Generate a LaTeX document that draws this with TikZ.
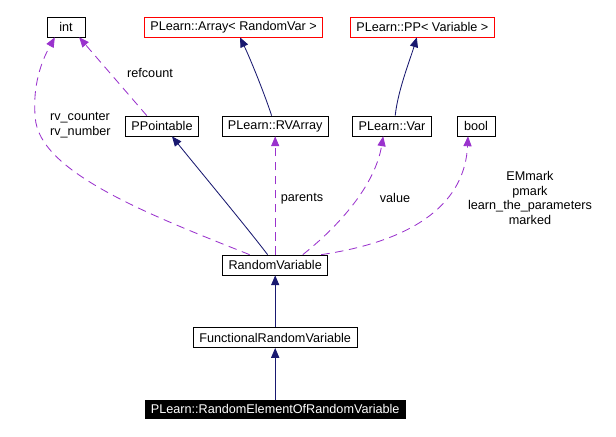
\documentclass[tikz,border=0pt]{standalone}
\usepackage{fontspec}
\setmainfont{Liberation Sans}
\usetikzlibrary{arrows.meta}
\definecolor{edgeblue}{HTML}{191970}
\definecolor{edgepurple}{HTML}{9A32CD}

\begin{document}
\begin{tikzpicture}[>={Triangle[length=7pt,width=5.8pt]}, font=\fontsize{9}{10.4}\selectfont,
  box/.style={draw, line width=0.5pt, minimum height=0.5cm, minimum width=0.95cm, inner xsep=4.2pt, inner ysep=0pt},
  redbox/.style={box, draw=red},
  blackbox/.style={box, fill=black, text=white, minimum height=0.45cm},
  inherit/.style={->, draw=edgeblue, line width=0.6pt},
  usage/.style={->, draw=edgepurple, line width=0.6pt, dash pattern=on 6pt off 4pt}]
  \useasboundingbox (0,0) rectangle (15.4,10.9);
  \node[box] (int) at (1.65,10.225) {int};
  \node[redbox] (arr) at (5.84,10.225) {PLearn::Array< RandomVar >};
  \node[redbox] (pp) at (10.56,10.225) {PLearn::PP< Variable >};
  \node[box] (ppt) at (4.05,7.75) {PPointable};
  \node[box] (rva) at (6.88,7.75) {PLearn::RVArray};
  \node[box] (var) at (9.8,7.75) {PLearn::Var};
  \node[box] (bool) at (11.9,7.75) {bool};
  \node[box] (rv) at (6.88,4.275) {RandomVariable};
  \node[box] (frv) at (6.88,2.46) {FunctionalRandomVariable};
  \node[blackbox] (reorv) at (6.88,0.675) {PLearn::RandomElementOfRandomVariable};
  \draw[usage] ([xshift=-0.38cm]ppt.north) -- ([xshift=0.33cm]int.south);
  \draw[usage] ([xshift=-0.64cm]rv.north) .. controls (3.75,5.525) and (0.95,6.6) .. (0.88,7.975)
    .. controls (0.8,8.9) and (1.125,9.525) .. ([xshift=-0.28cm]int.south);
  \draw[inherit] ([xshift=-0.19cm]rv.north) .. controls (6.125,5.275) and (4.875,6.775) .. ([xshift=0.25cm]ppt.south);
  \draw[usage] (rv.north) -- (rva.south);
  \draw[inherit] ([xshift=-0.09cm]rva.north) .. controls (6.625,8.525) and (6.25,9.45) .. ([xshift=0.16cm]arr.south);
  \draw[inherit] ([xshift=0.08cm]var.north) .. controls (9.95,8.65) and (10.25,9.4) .. ([xshift=-0.14cm]pp.south);
  \draw[usage] ([xshift=0.69cm]rv.north) .. controls (8.5,5.275) and (9.375,6.275) .. ([xshift=-0.22cm]var.south);
  \draw[usage] ([xshift=1.15cm]rv.north) .. controls (10.5,4.9) and (11.625,5.9) .. ([xshift=-0.2cm]bool.south);
  \draw[inherit] (frv.north) -- (rv.south);
  \draw[inherit] (reorv.north) -- (frv.south);
  \node (lref) at (3.75,9.075) {refcount};
  \node[align=left] (lrv) at (2.01,7.775) {rv\_counter\\rv\_number};
  \node (lpar) at (7.55,5.925) {parents};
  \node (lval) at (9.875,5.95) {value};
  \node[align=center] (lbool) at (13.25,5.95) {EMmark\\pmark\\learn\_the\_parameters\\marked};
\end{tikzpicture}
\end{document}
